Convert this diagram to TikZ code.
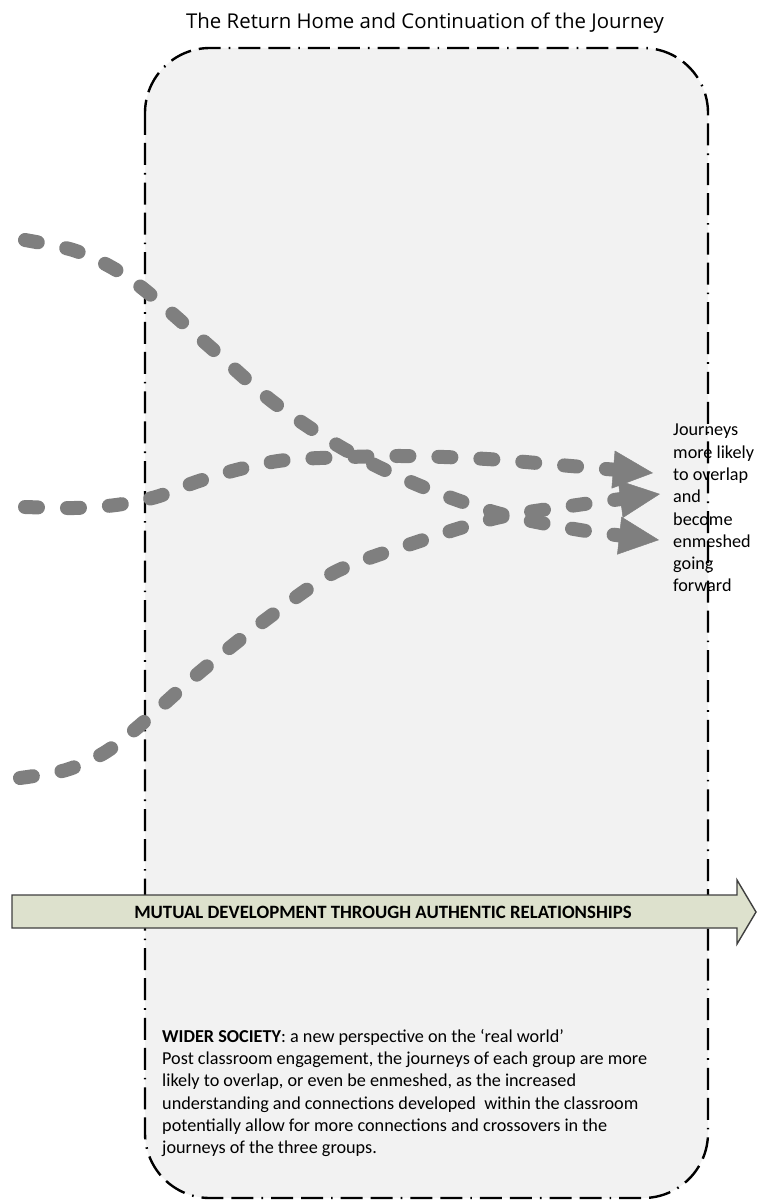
\documentclass[tikz,border=0pt]{standalone}
\usepackage{fontspec}
\setmainfont{Carlito}
\newfontfamily\headingfont{Open Sans}
\usetikzlibrary{arrows.meta}
\definecolor{panelgrey}{HTML}{F2F2F2}
\definecolor{pathgrey}{HTML}{7F7F7F}
\definecolor{bandgreen}{RGB}{221,225,205}
\definecolor{bandedge}{HTML}{3F3F3F}
\tikzset{
  panel/.style={fill=panelgrey, draw=black, line width=2.4pt,
    dash pattern=on 22pt off 8pt on 22pt off 8pt on 1.6pt off 8pt,
    rounded corners=65pt},
  journey/.style={draw=pathgrey, line width=14pt, line cap=round,
    dash pattern=on 13pt off 29pt,
    -{Triangle[length=40pt 0 0, width=38pt 0 0, line width=0.5pt, fill=pathgrey]}},
  band/.style={fill=bandgreen, draw=bandedge, line width=1.4pt, line join=miter},
  body/.style={font=\fontsize{18.2}{22.3}\selectfont, inner sep=0pt, align=left},
  heading/.style={font=\headingfont\fontsize{20.4}{24}\selectfont, inner sep=0pt}
}
\begin{document}
\begin{tikzpicture}[x=1pt, y=-1pt]
\useasboundingbox (0,0) rectangle (760,1201);

% rounded panel for the wider society
\path[panel] (145,48) rectangle (708,1198);

% the three journeys
\coordinate (aStart) at (25,240);
\coordinate (aEnd)   at (659,540);
\coordinate (bStart) at (25,507);
\coordinate (bEnd)   at (653,473);
\coordinate (cStart) at (20,778);
\coordinate (cEnd)   at (660,494);

\draw[journey] plot[smooth] coordinates {(aStart) (73,250) (111,267) (146,291)
  (209,346) (273,402) (344,449) (418,485) (497,513) (580,530) (aEnd)};
\draw[journey] plot[smooth] coordinates {(bStart) (74,508) (116,505) (156,497)
  (196,482) (236,470) (278,461) (320,458) (403,456) (487,459) (571,466) (bEnd)};
\draw[journey] plot[smooth] coordinates {(cStart) (66,770) (104,753) (138,727)
  (200,672) (268,618) (335,572) (414,543) (496,518) (577,505) (cEnd)};

% side note
\node[body, anchor=north west] (sidenote) at (673,424)
  {Journeys\\more likely\\to overlap\\and\\become\\enmeshed\\going\\forward};

% description at the foot of the panel
\node[body, anchor=north west] (society) at (162,1029)
  {\textbf{WIDER SOCIETY}: a new perspective on the ‘real world’\\
   Post classroom engagement, the journeys of each group are more\\
   likely to overlap, or even be enmeshed, as the increased\\
   understanding and connections developed \ within the classroom\\
   potentially allow for more connections and crossovers in the\\
   journeys of the three groups.};

% broad arrow across the picture
\path[band] (12,895) -- (737,895) -- (737,880) -- (756,912) -- (737,944)
  -- (737,928) -- (12,928) -- cycle;
\node[body, font=\bfseries\fontsize{18.8}{22.3}\selectfont] (mutual) at (383,912)
  {MUTUAL DEVELOPMENT THROUGH AUTHENTIC RELATIONSHIPS};

% heading
\node[heading, anchor=base] (title) at (425,29)
  {The Return Home and Continuation of the Journey};
\end{tikzpicture}
\end{document}
